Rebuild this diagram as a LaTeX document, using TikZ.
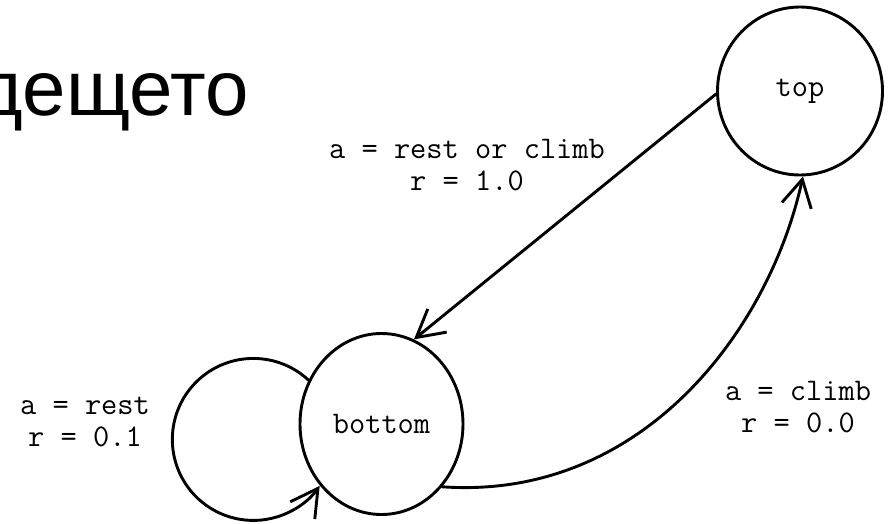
\documentclass[tikz,border=0pt]{standalone}
\usepackage{fontspec}
\setmainfont{Liberation Sans}
\usetikzlibrary{arrows.meta,shapes.geometric}

\begin{document}
\begin{tikzpicture}[x=1pt,y=-1pt,>={Straight Barb[length=27pt,width=30pt]},line join=round,line cap=round,line width=2.9pt,
	state/.style={draw,ellipse,inner sep=0pt,font=\ttfamily\fontsize{31.5}{32}\selectfont},
	act/.style={align=center,font=\ttfamily\fontsize{31.5}{32}\selectfont}]
	\useasboundingbox (0,0) rectangle (891,523);
	\node[anchor=base east,inner sep=0pt,font=\fontsize{78}{80}\selectfont] (title) at (250,115) {дещето};
	\node[state,minimum width=165pt,minimum height=168pt] (top) at (800,91) {top};
	\node[state,minimum width=163pt,minimum height=181pt] (bottom) at (381.5,424) {bottom};
	\draw[->] (top.182) -- (bottom.69);
	\draw[->] (bottom.149) arc[start angle=-47,end angle=-325,radius=81];
	\draw[->] (bottom.314) .. controls +(199,14) and +(-34,155) .. (top.272);
	\node[act] (lblback) at (467,165) {a = rest or climb\\r = 1.0};
	\node[act] (lblclimb) at (798,407) {a = climb\\r = 0.0};
	\node[act] (lblrest) at (85,422) {a = rest\\r = 0.1};
\end{tikzpicture}
\end{document}
